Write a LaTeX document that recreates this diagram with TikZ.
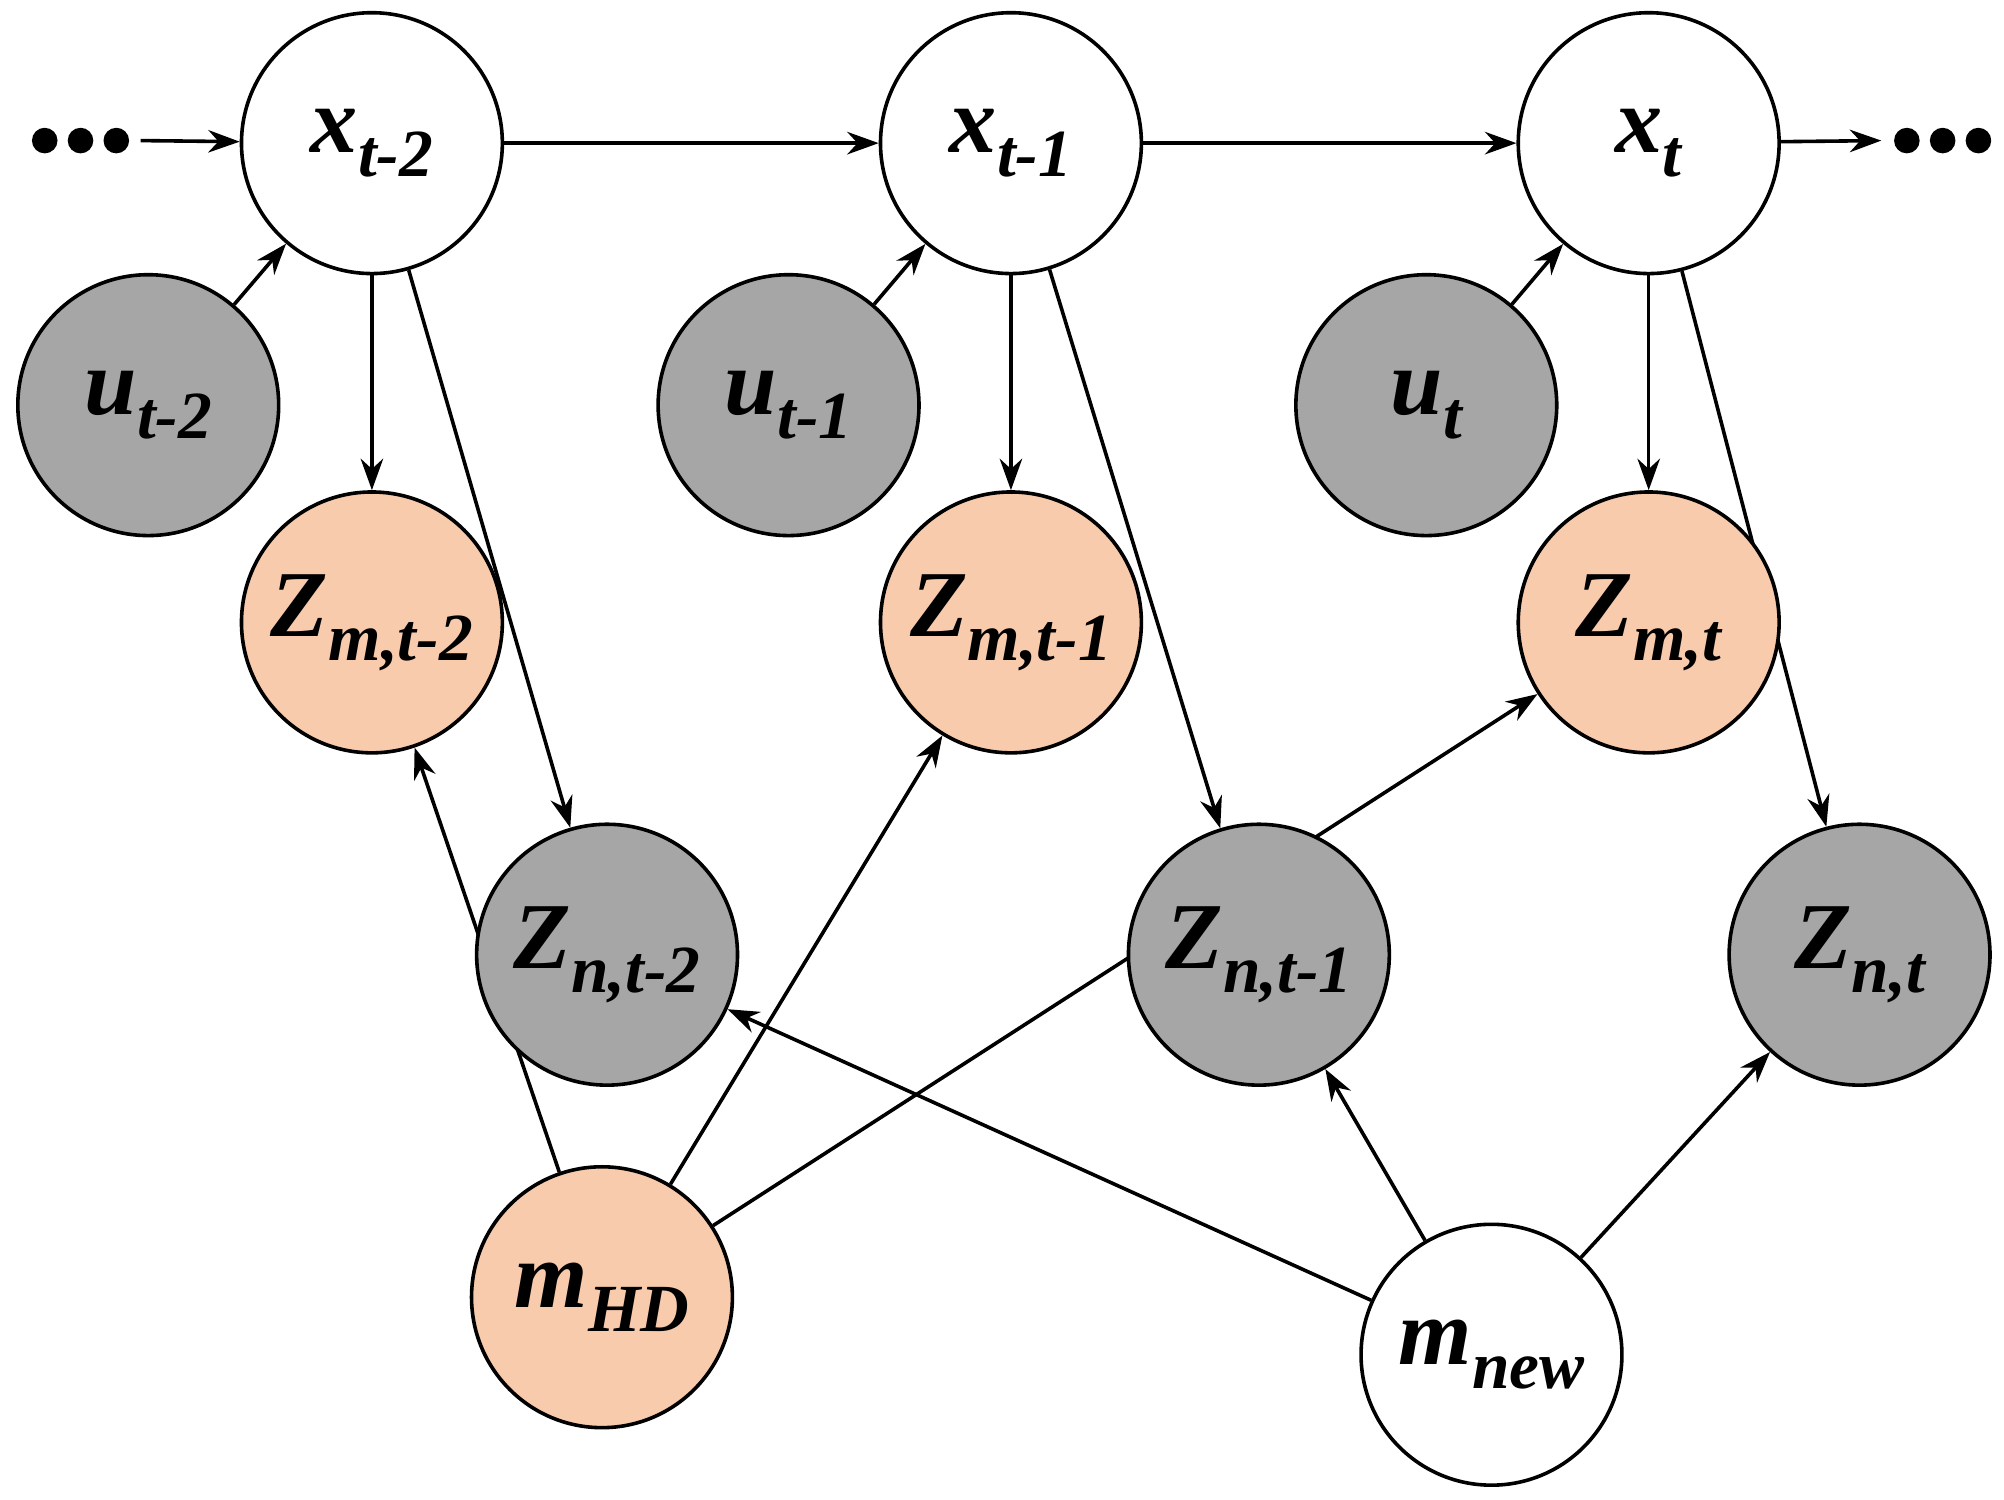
\documentclass[tikz,border=0pt]{standalone}
\usepackage{fontspec}
\setmainfont{Liberation Serif}
\usetikzlibrary{arrows.meta,backgrounds}
\definecolor{gr}{HTML}{A6A6A6}
\definecolor{pe}{HTML}{F8CBAD}
\newcommand\mysub[1]{\raisebox{-0.55ex}{\fontsize{15}{17}\selectfont #1}}
\begin{document}
\begin{tikzpicture}[x=0.01cm,y=-0.01cm,
  v/.style={circle,draw,line width=0.8pt,minimum size=2.04cm,inner sep=0pt,font=\fontsize{21}{24}\selectfont\bfseries\itshape},
  w/.style={v,fill=white},g/.style={v,fill=gr},p/.style={v,fill=pe},
  e/.style={-{Stealth[length=7pt,width=5pt]},line width=0.8pt},
  dot/.style={circle,fill=black,inner sep=0pt,minimum size=0.2cm}]
\useasboundingbox (0,0) rectangle (1568,1173);
\node[w] (x2) at (291,112) {x\mysub{t-2}};
\node[w] (x1) at (791,112) {x\mysub{t-1}};
\node[w] (x0) at (1290,112) {x\mysub{t}};
\node[g] (u2) at (116,317) {u\mysub{t-2}};
\node[g] (u1) at (617,317) {u\mysub{t-1}};
\node[g] (u0) at (1116,317) {u\mysub{t}};
\node[p] (zm2) at (291,487) {Z\mysub{m,t-2}};
\node[p] (zm1) at (791,487) {Z\mysub{m,t-1}};
\node[p] (zm0) at (1290,487) {Z\mysub{m,t}};
\node[g] (zn2) at (475,747) {Z\mysub{n,t-2}};
\node[g] (zn1) at (985,747) {Z\mysub{n,t-1}};
\node[g] (zn0) at (1455,747) {Z\mysub{n,t}};
\node[p] (mhd) at (471,1015) {m\mysub{HD}};
\node[w] (mnew) at (1167,1060) {m\mysub{new}};
\node[dot] (l1) at (35,110) {}; \node[dot] (l2) at (63,110) {}; \node[dot] (l3) at (91,110) {};
\node[dot] (r1) at (1492,110) {}; \node[dot] (r2) at (1520,110) {}; \node[dot] (r3) at (1548,110) {};
\coordinate (ls) at (110,110); \coordinate (re) at (1472,110);
\begin{scope}[on background layer]
\draw[e] (ls) -- (x2);
\draw[e] (x2) -- (x1);
\draw[e] (x1) -- (x0);
\draw[e] (x0) -- (re);
\foreach \a/\b in {u2/x2,u1/x1,u0/x0,x2/zm2,x1/zm1,x0/zm0,x2/zn2,x1/zn1,x0/zn0,mhd/zm2,mhd/zm1,mhd/zm0,mnew/zn2,mnew/zn1,mnew/zn0}
  \draw[e] (\a) -- (\b);
\end{scope}
\end{tikzpicture}
\end{document}
